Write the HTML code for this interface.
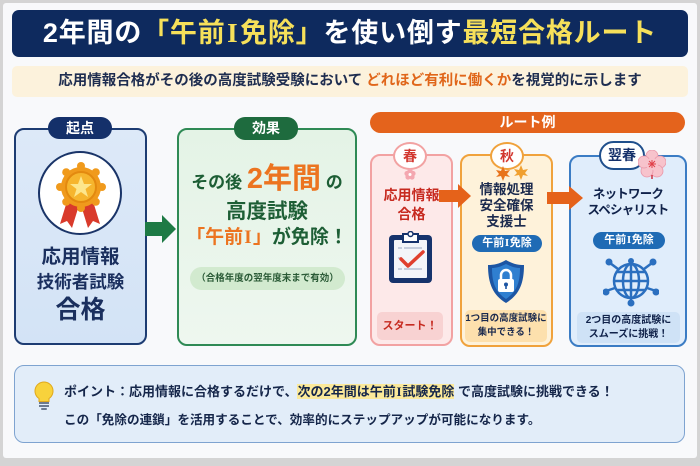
<!DOCTYPE html>
<html><head><meta charset="utf-8">
<style>
*{margin:0;padding:0;box-sizing:border-box}
body{width:700px;height:466px;background:#d4d4d4;position:relative;overflow:hidden;font-family:"Liberation Sans","Noto Sans CJK JP",sans-serif;font-weight:bold}
.a{position:absolute}
.c{text-align:center;white-space:nowrap}
.i{font-family:"Liberation Serif",serif;margin:0 0.06em}
</style></head><body>
<div class="a" style="left:3px;top:3px;width:694px;height:455px;background:#f8f9fb;border-radius:3px"></div>

<!-- Title -->
<div class="a c" style="left:12px;top:10px;width:676px;height:47px;background:#0e2a5e;border-radius:7px;color:#fff;font-size:27px;line-height:47px;letter-spacing:0.8px">2年間の<span style="color:#f6e05a">「午前<span class="i">I</span>免除」</span>を使い倒す<span style="color:#f6e05a">最短合格ルート</span></div>

<!-- Subtitle -->
<div class="a c" style="left:12px;top:66px;width:676px;height:31px;background:#fcf2dc;border-radius:5px;color:#1e2d50;font-size:14.5px;line-height:31px">応用情報合格がその後の高度試験受験において <span style="color:#e0661a">どれほど有利に働くか</span>を視覚的に示します</div>

<!-- Left box -->
<div class="a" style="left:14px;top:128px;width:133px;height:217px;border:2px solid #1d3c72;background:linear-gradient(#dde9f8,#d3e3f6);border-radius:10px"></div>
<div class="a c" style="left:48px;top:117px;width:64px;height:22px;background:#14306a;border-radius:11px;color:#fff;font-size:14px;line-height:22px">起点</div>
<svg class="a" style="left:36px;top:150px" width="88" height="88" viewBox="0 0 88 88">
  <circle cx="44" cy="43" r="41" fill="#fff" stroke="#1a3468" stroke-width="2"/>
  <polygon points="32,48 24,74 31,71 36,78 44,52" fill="#d93a2b"/>
  <polygon points="56,48 64,74 57,71 52,78 44,52" fill="#d93a2b"/>
  <g fill="#f09a1c">
    <circle cx="45" cy="37" r="20"/>
    <circle cx="45" cy="16" r="4"/><circle cx="59.8" cy="22.2" r="4"/><circle cx="66" cy="37" r="4"/><circle cx="59.8" cy="51.8" r="4"/>
    <circle cx="45" cy="58" r="4"/><circle cx="30.2" cy="51.8" r="4"/><circle cx="24" cy="37" r="4"/><circle cx="30.2" cy="22.2" r="4"/>
  </g>
  <circle cx="45" cy="37" r="15" fill="#f6b52e" stroke="#e3890f" stroke-width="2"/>
  <polygon points="45,26 48,34 56,34 49.5,39 52,47 45,42 38,47 40.5,39 34,34 42,34" fill="#fde68c"/>
</svg>
<div class="a c" style="left:14px;top:245px;width:133px;color:#1a2f5e;font-size:19.5px;line-height:24px">応用情報</div>
<div class="a c" style="left:14px;top:270px;width:133px;color:#1a2f5e;font-size:17.5px;line-height:24px">技術者試験</div>
<div class="a c" style="left:14px;top:294px;width:133px;color:#1a2f5e;font-size:25px;line-height:32px">合格</div>

<!-- Green arrow -->
<svg class="a" style="left:144px;top:213px" width="34" height="32" viewBox="0 0 34 32">
  <polygon points="1,9 18,9 18,2 32,16 18,30 18,23 1,23" fill="#1e7a45"/>
</svg>

<!-- Green box -->
<div class="a" style="left:177px;top:128px;width:180px;height:218px;border:2px solid #2f8a55;background:linear-gradient(#e4f3e6,#eef7ef);border-radius:10px"></div>
<div class="a c" style="left:234px;top:117px;width:64px;height:23px;background:#1e6b3e;border-radius:11px;color:#fff;font-size:14px;line-height:23px">効果</div>
<div class="a c" style="left:177px;top:162px;width:180px;color:#1d5e35;font-size:17px;line-height:34px">その後 <span style="color:#ec7420;font-size:29px">2年間</span> の</div>
<div class="a c" style="left:177px;top:199px;width:180px;color:#1d5e35;font-size:20.5px;line-height:26px">高度試験</div>
<div class="a c" style="left:177px;top:225px;width:180px;color:#1d5e35;font-size:19px;line-height:26px"><span style="color:#ec7420">「午前<span class="i">I</span>」</span>が免除！</div>
<div class="a c" style="left:190px;top:267px;width:155px;height:23px;background:#d2eacf;border-radius:12px;color:#2a5a36;font-size:9.5px;line-height:23px">（合格年度の翌年度末まで有効）</div>

<!-- Route header -->
<div class="a c" style="left:370px;top:112px;width:315px;height:21px;background:#e4631c;border-radius:11px;color:#fff;font-size:14px;line-height:21px">ルート例</div>

<!-- Card 春 -->
<div class="a" style="left:370px;top:154px;width:83px;height:192px;border:2px solid #f2a2a2;background:#fde9e9;border-radius:10px"></div>
<div class="a c" style="left:393px;top:142px;width:34px;height:28px;background:#fff;border:2px solid #f2a2a2;border-radius:50%;color:#d2372f;font-size:14px;line-height:24px">春</div>
<svg class="a" style="left:404px;top:168px" width="12" height="12" viewBox="0 0 12 12">
  <g fill="#f4a7b0"><circle cx="6" cy="3" r="2.6"/><circle cx="9" cy="5.5" r="2.6"/><circle cx="8" cy="9" r="2.6"/><circle cx="4" cy="9" r="2.6"/><circle cx="3" cy="5.5" r="2.6"/></g>
  <circle cx="6" cy="6.5" r="1.5" fill="#fff"/>
</svg>
<div class="a c" style="left:370px;top:186px;width:83px;color:#c72a20;font-size:14px;line-height:19px">応用情報<br>合格</div>
<svg class="a" style="left:388px;top:231px" width="45" height="53" viewBox="0 0 45 53">
  <rect x="1" y="4" width="43" height="48" rx="4" fill="#16336c"/>
  <rect x="6" y="9" width="33" height="38" rx="1" fill="#f3f5f9"/>
  <path d="M15,3 h15 v8 h-15 z" fill="#fff" stroke="#16336c" stroke-width="2"/>
  <circle cx="22.5" cy="3" r="2.5" fill="#fff" stroke="#16336c" stroke-width="1.5"/>
  <g stroke="#b8c2d4" stroke-width="1.5"><line x1="10" y1="17" x2="14" y2="17"/><line x1="16" y1="17" x2="34" y2="17"/><line x1="10" y1="27" x2="14" y2="27"/><line x1="10" y1="38" x2="14" y2="38"/><line x1="16" y1="38" x2="34" y2="38"/></g>
  <polyline points="13,28 20,35 35,21" fill="none" stroke="#e0402e" stroke-width="3.5" stroke-linecap="round" stroke-linejoin="round"/>
</svg>
<div class="a c" style="left:377px;top:312px;width:66px;height:28px;background:#f8d2d2;border-radius:5px;color:#c62a20;font-size:11px;line-height:28px">スタート！</div>

<!-- Card 秋 -->
<div class="a" style="left:460px;top:154px;width:93px;height:193px;border:2px solid #f0a23c;background:#fef2da;border-radius:10px"></div>
<div class="a c" style="left:490px;top:142px;width:34px;height:28px;background:#fff;border:2px solid #f0a23c;border-radius:50%;color:#d2372f;font-size:14px;line-height:24px">秋</div>
<svg class="a" style="left:494px;top:164px" width="36" height="18" viewBox="0 0 36 18">
  <polygon points="9,2 11,7 16,6 13,10 16,13 11,12 9,17 7,12 2,13 5,10 2,6 7,7" fill="#e8731c"/>
  <polygon points="27,1 29,6 34,5 31,9 34,12 29,11 27,16 25,11 20,12 23,9 20,5 25,6" fill="#f0a030"/>
</svg>
<div class="a c" style="left:460px;top:182px;width:93px;color:#1b2a4e;font-size:13.5px;line-height:16px">情報処理<br>安全確保<br>支援士</div>
<div class="a c" style="left:472px;top:235px;width:70px;height:17px;background:#1f6bb5;border-radius:9px;color:#fff;font-size:11px;line-height:17px">午前<span class="i">I</span>免除</div>
<svg class="a" style="left:487px;top:259px" width="38" height="45" viewBox="0 0 38 45">
  <path d="M19,1 C26,5 31,6 37,6 C37,25 32,36 19,44 C6,36 1,25 1,6 C7,6 12,5 19,1 z" fill="#1c55a3"/>
  <path d="M19,5 C25,8 29,9 33,9 C33,25 29,33 19,40 C9,33 5,25 5,9 C9,9 13,8 19,5 z" fill="#2f7fd0"/>
  <rect x="11" y="20" width="16" height="13" rx="2" fill="#fff"/>
  <path d="M14,20 v-4 a5,5 0 0 1 10,0 v4" fill="none" stroke="#fff" stroke-width="2.5"/>
  <circle cx="19" cy="25.5" r="2" fill="#1c55a3"/><rect x="18.2" y="26" width="1.6" height="4" fill="#1c55a3"/>
</svg>
<div class="a c" style="left:465px;top:310px;width:82px;height:32px;background:#fde0ad;border-radius:5px;color:#1b2a4e;font-size:9.5px;line-height:14px;padding-top:2px">1つ目の高度試験に<br>集中できる！</div>

<!-- Card 翌春 -->
<div class="a" style="left:569px;top:155px;width:118px;height:192px;border:2px solid #3b7cc4;background:#e0edfb;border-radius:10px"></div>
<div class="a c" style="left:599px;top:141px;width:46px;height:29px;background:#fff;border:2px solid #1f4f8c;border-radius:15px;color:#15306a;font-size:14px;line-height:25px">翌春</div>
<svg class="a" style="left:638px;top:150px" width="28" height="30" viewBox="0 0 28 30">
  <g fill="#f7c3cc" stroke="#e996a8" stroke-width="0.8">
    <ellipse cx="14" cy="6" rx="6" ry="6"/><ellipse cx="22" cy="12" rx="6" ry="6"/><ellipse cx="19" cy="21" rx="6" ry="6"/><ellipse cx="9" cy="21" rx="6" ry="6"/><ellipse cx="6" cy="12" rx="6" ry="6"/>
  </g>
  <circle cx="14" cy="14" r="6" fill="#f7c3cc"/>
  <g stroke="#e0404a" stroke-width="1"><line x1="14" y1="10" x2="14" y2="18"/><line x1="10" y1="14" x2="18" y2="14"/><line x1="11" y1="11" x2="17" y2="17"/><line x1="17" y1="11" x2="11" y2="17"/></g>
  <line x1="14" y1="25" x2="14" y2="29" stroke="#d03040" stroke-width="1.5"/>
</svg>
<div class="a c" style="left:569px;top:186px;width:118px;color:#10224a;font-size:12.5px;line-height:16px;letter-spacing:-0.8px">ネットワーク<br>スペシャリスト</div>
<div class="a c" style="left:593px;top:232px;width:72px;height:17px;background:#1f6bb5;border-radius:9px;color:#fff;font-size:11px;line-height:17px">午前<span class="i">I</span>免除</div>
<svg class="a" style="left:603px;top:255px" width="56" height="52" viewBox="0 0 56 52">
  <g fill="none" stroke="#2b6fbf" stroke-width="2.5">
    <circle cx="28" cy="26" r="17"/>
    <ellipse cx="28" cy="26" rx="8" ry="17"/>
    <line x1="28" y1="9" x2="28" y2="43"/>
    <line x1="11" y1="26" x2="45" y2="26"/>
    <path d="M14,17 h28 M14,35 h28"/>
    <line x1="7" y1="8" x2="15" y2="14"/><line x1="49" y1="8" x2="41" y2="14"/>
    <line x1="3" y1="36" x2="12" y2="33"/><line x1="53" y1="36" x2="44" y2="33"/>
    <line x1="28" y1="43" x2="28" y2="48"/>
  </g>
  <g fill="#2b6fbf"><circle cx="6" cy="7" r="3.5"/><circle cx="50" cy="7" r="3.5"/><circle cx="3" cy="37" r="3.5"/><circle cx="53" cy="37" r="3.5"/><circle cx="28" cy="48" r="3.5"/><circle cx="28" cy="6" r="3"/></g>
</svg>
<div class="a c" style="left:577px;top:312px;width:103px;height:31px;background:#cfe2f6;border-radius:5px;color:#10224a;font-size:10px;line-height:14px;padding-top:2px">2つ目の高度試験に<br>スムーズに挑戦！</div>

<!-- Route arrows (on top of cards) -->
<svg class="a" style="left:438px;top:183px" width="34" height="26" viewBox="0 0 34 26">
  <polygon points="1,7 20,7 20,1 33,13 20,25 20,19 1,19" fill="#e5621a"/>
</svg>
<svg class="a" style="left:546px;top:185px" width="38" height="26" viewBox="0 0 38 26">
  <polygon points="1,7 23,7 23,1 37,13 23,25 23,19 1,19" fill="#e5621a"/>
</svg>

<!-- Bottom point box -->
<div class="a" style="left:14px;top:365px;width:671px;height:78px;background:#e2edf9;border:1.5px solid #7ea3d0;border-radius:10px"></div>
<svg class="a" style="left:34px;top:381px" width="20" height="30" viewBox="0 0 20 30">
  <path d="M10,1 a9,9 0 0 1 5,16.5 v3 h-10 v-3 a9,9 0 0 1 5,-16.5 z" fill="#f8d23c" stroke="#e0a81c" stroke-width="1"/>
  <rect x="5" y="21" width="10" height="2" fill="#6b7a90"/>
  <rect x="5" y="24" width="10" height="2" fill="#6b7a90"/>
  <rect x="7" y="27" width="6" height="2" rx="1" fill="#6b7a90"/>
</svg>
<div class="a" style="left:64px;top:382px;white-space:nowrap;color:#15264a;font-size:13px;line-height:20px">ポイント：応用情報に合格するだけで、<span style="background:#fbe99a">次の2年間は午前<span class="i">I</span>試験免除</span> で高度試験に挑戦できる！</div>
<div class="a" style="left:64px;top:410px;white-space:nowrap;color:#15264a;font-size:12.6px;line-height:20px">この「免除の連鎖」を活用することで、効率的にステップアップが可能になります。</div>
</body></html>
